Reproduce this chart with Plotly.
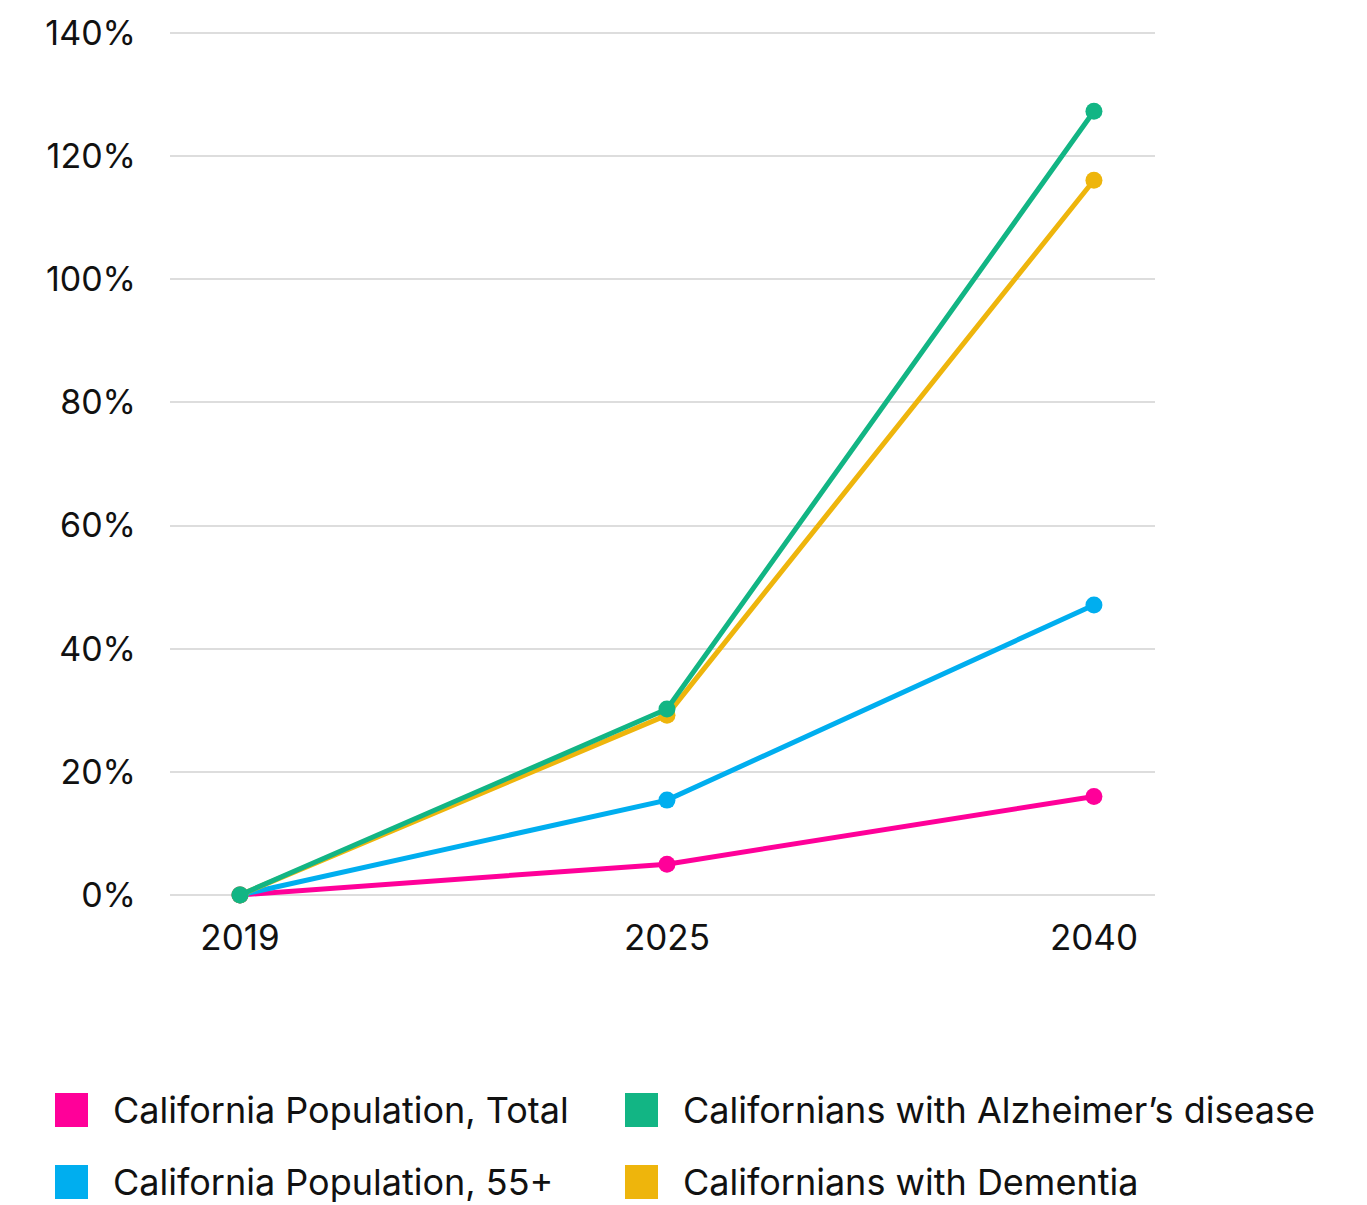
import plotly.graph_objects as go

years = ["2019", "2025", "2040"]
series_names = [
    "California Population, Total",
    "California Population, 55+",
    "Californians with Dementia",
    "Californians with Alzheimer\u2019s disease",
]
pop_total = [0, 5.0, 16.0]
pop_55 = [0, 15.4, 47.1]
dementia = [0, 29.2, 116.1]
alzheimers = [0, 30.2, 127.3]
colors = ["#FF0099", "#00AEEF", "#EEB50C", "#12B584"]
y_ticks = [0, 20, 40, 60, 80, 100, 120, 140]
y_ticktext = [f"{v}%" for v in y_ticks]

FONT = "Inter"
OFF = 8  # page body margin
W, H = 1367 - OFF, 1205 - OFF
# plot area in page pixels
PL, PR = 170, 1155
PT, PB = 30, 898
ML, MR = PL - OFF, W - (PR - OFF)
MT, MB = PT - OFF, H - (PB - OFF)
PW, PH = PR - PL, PB - PT


def px(xp):
    return (xp - PL) / PW


def py(yp):
    return (PB - yp) / PH


fig = go.Figure()
for name, vals, col in zip(series_names, [pop_total, pop_55, dementia, alzheimers], colors):
    fig.add_trace(go.Scatter(
        x=years, y=vals, name=name, mode="lines+markers",
        line=dict(color=col, width=5),
        marker=dict(color=col, size=17),
        cliponaxis=False, showlegend=False,
    ))

legend_layout = [
    (0, 0, 0),
    (3, 1, 0),
    (1, 0, 1),
    (2, 1, 1),
]
col_x = [55, 625]
row_y = [1110, 1182]
for idx, c, r in legend_layout:
    x0 = col_x[c]
    yc = row_y[r]
    fig.add_shape(type="rect", xref="paper", yref="paper",
                  x0=px(x0), x1=px(x0 + 33),
                  y0=py(yc + 17), y1=py(yc - 17),
                  fillcolor=colors[idx], line=dict(width=0))
    fig.add_annotation(xref="paper", yref="paper",
                       x=px(x0 + 57), y=py(yc),
                       text=series_names[idx], showarrow=False,
                       xanchor="left", yanchor="middle", borderpad=0,
                       font=dict(family=FONT, size=36, color="#111111"))

fig.update_layout(
    width=W, height=H,
    margin=dict(l=ML, r=MR, t=MT, b=MB, pad=0, autoexpand=False),
    paper_bgcolor="white", plot_bgcolor="white",
    font=dict(family=FONT, size=35, color="#111111"),
    showlegend=False,
)
fig.update_xaxes(type="category", range=[-0.164, 2.143], showgrid=False,
                 showline=False, zeroline=False, ticks="", ticklabelstandoff=16,
                 automargin=False,
                 tickfont=dict(family=FONT, size=35, color="#111111"))
fig.update_yaxes(range=[-0.5, 140.5], tickvals=y_ticks, ticktext=y_ticktext,
                 showgrid=True, gridcolor="#DDDDDD", gridwidth=2,
                 zeroline=False, showline=False, ticks="", ticklabelstandoff=33,
                 automargin=False,
                 tickfont=dict(family=FONT, size=34, color="#111111"))

fig.write_html("out.html")
